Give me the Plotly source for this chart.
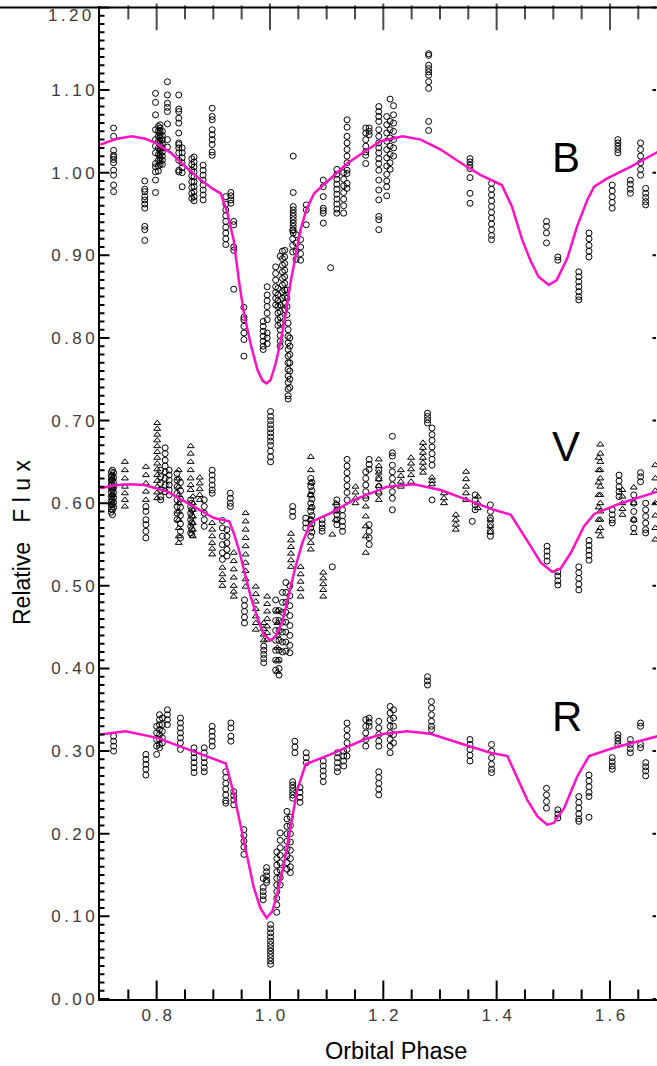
import plotly.graph_objects as go

# ---- observed light curves: (orbital phase, [relative flux, ...]) per run ----
B_OBS = [
    (0.724, [1.054, 1.044, 1.027, 1.021, 1.019, 1.016, 1.012, 1.003, 0.997, 0.985, 0.977]),
    (0.779, [0.990, 0.980, 0.977, 0.971, 0.967, 0.962, 0.957, 0.935, 0.931, 0.918]),
    (0.798, [1.096, 1.085, 1.070, 1.052, 1.040, 1.032, 1.024, 1.011, 1.007, 1.001, 0.991, 0.976]),
    (0.803, [1.056, 1.050, 1.044, 1.038, 1.030, 1.022, 1.015, 1.008, 1.002]),
    (0.806, [1.058, 1.054, 1.050, 1.046, 1.042, 1.038, 1.034, 1.030, 1.026, 1.022, 1.018, 1.014, 1.010]),
    (0.810, [1.050, 1.045, 1.040, 1.035, 1.030, 1.025, 1.020, 1.015, 1.010]),
    (0.819, [1.110, 1.094, 1.084, 1.079, 1.074, 1.059, 1.040, 1.031]),
    (0.839, [1.094, 1.077, 1.074, 1.066, 1.060, 1.048, 1.036, 1.034, 1.030, 1.024, 1.015, 1.003, 1.001]),
    (0.845, [1.030, 1.024, 1.018, 1.012, 1.006, 1.000, 0.983]),
    (0.862, [1.017, 1.010, 1.003, 0.996, 0.989, 0.982, 0.975, 0.969]),
    (0.866, [1.019, 1.013, 1.007, 1.001, 0.995, 0.989, 0.983, 0.977, 0.971, 0.966]),
    (0.882, [1.009, 1.003, 0.997, 0.991, 0.985, 0.979, 0.973, 0.967]),
    (0.898, [1.078, 1.068, 1.064, 1.052, 1.046, 1.040, 1.034, 1.025, 1.021]),
    (0.922, [0.971, 0.962, 0.955, 0.948, 0.941, 0.934, 0.927, 0.920, 0.913]),
    (0.931, [0.976, 0.972, 0.967, 0.963]),
    (0.936, [0.941, 0.937, 0.910, 0.906, 0.859]),
    (0.954, [0.837, 0.825, 0.822, 0.814, 0.806, 0.798, 0.778]),
    (0.988, [0.820, 0.814, 0.808, 0.802, 0.796, 0.790, 0.786]),
    (0.995, [0.862, 0.852, 0.845, 0.838, 0.830, 0.822, 0.806, 0.800, 0.793]),
    (1.010, [0.886, 0.878, 0.870, 0.862, 0.855, 0.848, 0.840]),
    (1.014, [0.860, 0.852, 0.845, 0.838, 0.830, 0.822, 0.815]),
    (1.018, [0.840, 0.832, 0.825, 0.818, 0.810, 0.803, 0.796, 0.790, 0.899]),
    (1.022, [0.905, 0.896, 0.888, 0.880, 0.872, 0.864, 0.856, 0.848]),
    (1.026, [0.906, 0.898, 0.890, 0.882, 0.874, 0.866, 0.858, 0.850, 0.842, 0.834]),
    (1.030, [0.858, 0.848, 0.838, 0.828]),
    (1.032, [0.818, 0.810, 0.802, 0.794, 0.786, 0.778, 0.770, 0.762, 0.754, 0.746, 0.738, 0.730, 0.726]),
    (1.035, [0.800, 0.790, 0.780, 0.770, 0.760, 0.750, 0.740]),
    (1.040, [0.930, 0.920, 0.912, 0.904]),
    (1.041, [1.020, 0.976, 0.959, 0.955, 0.951, 0.947, 0.943, 0.939, 0.935, 0.931, 0.927]),
    (1.046, [0.925, 0.915, 0.905, 0.895]),
    (1.054, [0.919, 0.910, 0.902, 0.894]),
    (1.064, [0.961, 0.955, 0.937]),
    (1.094, [0.991, 0.983, 0.971, 0.957, 0.954, 0.951, 0.939]),
    (1.107, [0.885]),
    (1.118, [1.004, 0.998, 0.992, 0.986, 0.980, 0.974, 0.968, 0.962, 0.956, 0.951]),
    (1.130, [1.000, 0.992, 0.984, 0.976, 0.968, 0.960, 0.951]),
    (1.136, [1.064, 1.055, 1.044, 1.036, 1.028, 1.020, 1.012, 1.003, 0.999, 0.987, 0.981]),
    (1.169, [1.054, 1.048, 1.040, 1.032, 1.025, 1.021, 1.011]),
    (1.175, [1.054, 1.050, 1.046]),
    (1.192, [1.080, 1.074, 1.068, 1.062, 1.052, 1.044, 1.036, 1.030, 1.024, 1.017, 1.011, 1.003,
             0.991, 0.979, 0.967, 0.947, 0.943, 0.931]),
    (1.206, [1.068, 1.058, 1.048, 1.038, 1.028, 1.018, 1.008, 0.998, 0.990, 0.983, 0.972]),
    (1.212, [1.089, 1.062, 1.052, 1.042, 1.032, 1.022, 1.012, 1.004]),
    (1.218, [1.081, 1.070, 1.060, 1.050, 1.040, 1.030, 1.020]),
    (1.280, [1.144, 1.142, 1.130, 1.126, 1.122, 1.118, 1.110, 1.102, 1.062, 1.051]),
    (1.353, [1.017, 1.013, 1.009, 1.005, 0.994, 0.975, 0.963]),
    (1.391, [0.987, 0.980, 0.973, 0.966, 0.959, 0.952, 0.945, 0.938, 0.931, 0.924, 0.919]),
    (1.488, [0.941, 0.935, 0.927, 0.915]),
    (1.508, [0.898, 0.894]),
    (1.545, [0.880, 0.874, 0.868, 0.862, 0.856, 0.850, 0.846]),
    (1.563, [0.927, 0.920, 0.912, 0.905, 0.898]),
    (1.604, [0.985, 0.978, 0.971, 0.964, 0.957]),
    (1.614, [1.040, 1.036, 1.032, 1.028, 1.024]),
    (1.636, [0.991, 0.986, 0.980, 0.975]),
    (1.654, [1.036, 1.028, 1.020, 1.012, 1.004, 0.997]),
    (1.663, [0.981, 0.975, 0.970, 0.965, 0.961]),
]

# V band, first data set (circles)
V_OBS_A = [
    (0.720, [0.638, 0.633, 0.628, 0.623, 0.618, 0.613, 0.608, 0.603, 0.598, 0.593, 0.589]),
    (0.722, [0.640, 0.634, 0.628, 0.622, 0.616, 0.610, 0.604, 0.598, 0.592, 0.586]),
    (0.724, [0.637, 0.631, 0.625, 0.619, 0.613, 0.607, 0.601, 0.595]),
    (0.781, [0.596, 0.590, 0.580, 0.574, 0.566, 0.558]),
    (0.807, [0.640, 0.632, 0.624, 0.616, 0.608, 0.604]),
    (0.815, [0.667, 0.660, 0.652, 0.645, 0.638, 0.630, 0.622, 0.614]),
    (0.822, [0.640, 0.634, 0.628, 0.622, 0.616, 0.610]),
    (0.836, [0.636, 0.628, 0.620, 0.612, 0.604, 0.596, 0.588, 0.580]),
    (0.842, [0.625, 0.615, 0.605, 0.595, 0.585, 0.575, 0.566, 0.558]),
    (0.860, [0.604, 0.596, 0.588, 0.580, 0.572, 0.564]),
    (0.862, [0.600, 0.592, 0.584, 0.576, 0.568, 0.562]),
    (0.884, [0.604, 0.596, 0.588, 0.580, 0.572]),
    (0.898, [0.640, 0.634, 0.628, 0.622, 0.616, 0.612]),
    (0.916, [0.579, 0.570, 0.560, 0.550, 0.540, 0.532]),
    (0.924, [0.568, 0.560, 0.552, 0.544, 0.536]),
    (0.930, [0.612, 0.606, 0.600, 0.596]),
    (0.955, [0.483, 0.476, 0.469, 0.462, 0.455]),
    (0.989, [0.427, 0.422, 0.417, 0.412, 0.407]),
    (1.001, [0.711, 0.705, 0.700, 0.695, 0.690, 0.685, 0.680, 0.675, 0.670, 0.663, 0.656, 0.650]),
    (1.010, [0.483, 0.470, 0.458, 0.446, 0.434, 0.422, 0.410, 0.398]),
    (1.016, [0.470, 0.458, 0.446, 0.434, 0.422, 0.410, 0.400, 0.392]),
    (1.022, [0.492, 0.480, 0.468, 0.456, 0.444, 0.432, 0.420]),
    (1.028, [0.504, 0.492, 0.480, 0.468, 0.456, 0.444, 0.432, 0.421]),
    (1.035, [0.500, 0.488, 0.476, 0.464, 0.452, 0.440, 0.428, 0.419]),
    (1.040, [0.596, 0.590, 0.584]),
    (1.063, [0.582, 0.576, 0.570]),
    (1.072, [0.630, 0.620, 0.610, 0.600, 0.590, 0.580, 0.570, 0.560]),
    (1.074, [0.625, 0.615, 0.605, 0.595, 0.585, 0.575, 0.565]),
    (1.092, [0.580, 0.575, 0.570, 0.566]),
    (1.110, [0.523]),
    (1.118, [0.604, 0.598, 0.592, 0.586, 0.580, 0.574]),
    (1.128, [0.592, 0.585, 0.578, 0.572, 0.566]),
    (1.136, [0.653, 0.645, 0.637, 0.629, 0.621, 0.613, 0.604]),
    (1.169, [0.638, 0.630, 0.622, 0.614, 0.606]),
    (1.175, [0.653, 0.647, 0.641, 0.574, 0.566, 0.558, 0.550]),
    (1.192, [0.640, 0.630, 0.620, 0.612]),
    (1.216, [0.681, 0.661, 0.657, 0.646, 0.638, 0.630, 0.622, 0.614, 0.606, 0.592]),
    (1.278, [0.709, 0.705, 0.701, 0.697]),
    (1.286, [0.691, 0.683, 0.676, 0.668, 0.660, 0.653, 0.646, 0.604]),
    (1.357, [0.578]),
    (1.362, [0.610, 0.604, 0.598, 0.592]),
    (1.389, [0.598, 0.590, 0.582, 0.574, 0.566, 0.560]),
    (1.489, [0.548, 0.542, 0.536, 0.530]),
    (1.508, [0.517, 0.512, 0.506, 0.501]),
    (1.545, [0.523, 0.516, 0.509, 0.502, 0.495]),
    (1.563, [0.555, 0.549, 0.543, 0.537, 0.531]),
    (1.604, [0.592, 0.586, 0.580, 0.576]),
    (1.616, [0.634, 0.627, 0.620, 0.614, 0.608]),
    (1.642, [0.610, 0.600, 0.590, 0.580, 0.570]),
    (1.654, [0.637, 0.632, 0.626]),
    (1.663, [0.600, 0.592, 0.584, 0.576, 0.568, 0.564]),
]

# V band, second data set (triangles)
V_OBS_B = [
    (0.722, [0.630, 0.620, 0.610, 0.600]),
    (0.744, [0.650, 0.640, 0.630, 0.620, 0.612, 0.604, 0.596]),
    (0.781, [0.644, 0.634, 0.624, 0.614, 0.604]),
    (0.801, [0.697, 0.690, 0.683, 0.676, 0.669, 0.662, 0.655, 0.648, 0.641, 0.634, 0.627, 0.620,
             0.613, 0.606]),
    (0.839, [0.640, 0.630, 0.620, 0.610, 0.600, 0.590, 0.580, 0.570, 0.560, 0.552]),
    (0.860, [0.669, 0.660, 0.650, 0.640, 0.630, 0.622, 0.616]),
    (0.864, [0.608, 0.600, 0.592, 0.584, 0.576, 0.568, 0.560]),
    (0.876, [0.631, 0.624, 0.617, 0.610, 0.604]),
    (0.898, [0.576, 0.568, 0.560, 0.552, 0.545, 0.538]),
    (0.916, [0.522, 0.514, 0.507, 0.500]),
    (0.936, [0.540, 0.530, 0.520, 0.510, 0.500, 0.493, 0.487]),
    (0.957, [0.588, 0.578, 0.568, 0.558, 0.548, 0.538, 0.528, 0.518, 0.508, 0.499]),
    (0.975, [0.499, 0.490, 0.481, 0.472, 0.463, 0.455, 0.447]),
    (0.989, [0.455, 0.448, 0.441, 0.434]),
    (0.995, [0.487, 0.478, 0.469, 0.460, 0.451, 0.443, 0.435]),
    (1.013, [0.470, 0.455, 0.440, 0.425, 0.410, 0.396]),
    (1.037, [0.563, 0.555, 0.547, 0.539, 0.531, 0.523]),
    (1.054, [0.523, 0.514, 0.505, 0.496, 0.487]),
    (1.072, [0.656, 0.640, 0.625, 0.610, 0.595, 0.580, 0.552, 0.544]),
    (1.094, [0.516, 0.509, 0.502, 0.495, 0.487]),
    (1.110, [0.562]),
    (1.116, [0.600, 0.590, 0.580]),
    (1.151, [0.620, 0.613, 0.606, 0.600]),
    (1.169, [0.608, 0.596, 0.584, 0.572, 0.560, 0.540]),
    (1.192, [0.653, 0.645, 0.637, 0.629, 0.621, 0.613, 0.604]),
    (1.231, [0.640, 0.633, 0.626, 0.620]),
    (1.249, [0.655, 0.648, 0.641, 0.634, 0.626]),
    (1.270, [0.673, 0.667, 0.661, 0.655, 0.649, 0.643, 0.637]),
    (1.286, [0.631, 0.627, 0.623]),
    (1.307, [0.612, 0.606, 0.600]),
    (1.328, [0.586, 0.580, 0.574, 0.568]),
    (1.346, [0.638, 0.629, 0.620, 0.612, 0.604]),
    (1.367, [0.608, 0.600, 0.594]),
    (1.389, [0.580, 0.572, 0.565]),
    (1.580, [0.655, 0.640, 0.625, 0.610, 0.595, 0.580, 0.566]),
    (1.583, [0.671, 0.660, 0.650, 0.640, 0.630, 0.620, 0.610, 0.600, 0.590, 0.580, 0.570, 0.560]),
    (1.622, [0.616, 0.608, 0.600, 0.593, 0.586]),
    (1.642, [0.619, 0.600, 0.580, 0.564]),
    (1.680, [0.646, 0.630, 0.615, 0.600, 0.585, 0.570, 0.556]),
]

R_OBS = [
    (0.724, [0.318, 0.312, 0.306, 0.300]),
    (0.781, [0.296, 0.290, 0.284, 0.278, 0.271]),
    (0.800, [0.330, 0.322, 0.314, 0.306, 0.296]),
    (0.805, [0.344, 0.338, 0.332, 0.326, 0.320, 0.314, 0.308, 0.304]),
    (0.810, [0.340, 0.332, 0.324, 0.316, 0.310]),
    (0.819, [0.350, 0.344, 0.338, 0.332]),
    (0.842, [0.340, 0.334, 0.328, 0.322, 0.316, 0.310, 0.302]),
    (0.866, [0.304, 0.298, 0.292, 0.286, 0.280, 0.274]),
    (0.884, [0.304, 0.298, 0.292, 0.286, 0.280, 0.275]),
    (0.898, [0.330, 0.324, 0.318, 0.312, 0.306]),
    (0.922, [0.275, 0.268, 0.261, 0.254, 0.247, 0.240, 0.237]),
    (0.931, [0.334, 0.328, 0.318, 0.312]),
    (0.936, [0.251, 0.246, 0.241, 0.235]),
    (0.954, [0.205, 0.198, 0.191, 0.184, 0.175]),
    (0.988, [0.146, 0.135, 0.130, 0.125, 0.120]),
    (0.994, [0.159, 0.154, 0.149, 0.144, 0.141]),
    (1.001, [0.090, 0.085, 0.080, 0.075, 0.070, 0.066, 0.062, 0.058, 0.054, 0.050, 0.046, 0.042]),
    (1.012, [0.178, 0.170, 0.162, 0.154, 0.146, 0.138, 0.130, 0.122, 0.114, 0.105]),
    (1.018, [0.201, 0.192, 0.183, 0.174, 0.165, 0.156, 0.147, 0.138]),
    (1.030, [0.227, 0.218, 0.209, 0.200, 0.191, 0.182, 0.173, 0.165, 0.157]),
    (1.036, [0.220, 0.210, 0.200, 0.190, 0.180, 0.170, 0.160, 0.153]),
    (1.040, [0.263, 0.259, 0.255, 0.251, 0.247, 0.243]),
    (1.044, [0.312, 0.305, 0.298]),
    (1.053, [0.256, 0.250, 0.244, 0.238]),
    (1.064, [0.298, 0.292, 0.286]),
    (1.094, [0.288, 0.282, 0.276, 0.270, 0.263]),
    (1.119, [0.298, 0.292, 0.286, 0.280, 0.275]),
    (1.130, [0.300, 0.294, 0.288, 0.282]),
    (1.136, [0.334, 0.326, 0.318, 0.310, 0.302, 0.294]),
    (1.169, [0.338, 0.330, 0.322, 0.314, 0.306]),
    (1.175, [0.340, 0.335, 0.330]),
    (1.192, [0.336, 0.328, 0.320, 0.312, 0.306, 0.275, 0.268, 0.261, 0.254, 0.247]),
    (1.212, [0.354, 0.346, 0.338, 0.330, 0.322, 0.314, 0.306, 0.298]),
    (1.218, [0.350, 0.340, 0.330, 0.320, 0.310]),
    (1.278, [0.390, 0.385, 0.380]),
    (1.285, [0.360, 0.352, 0.344, 0.336, 0.330, 0.326]),
    (1.353, [0.314, 0.308, 0.302, 0.295, 0.288]),
    (1.391, [0.308, 0.300, 0.292, 0.284, 0.278, 0.274]),
    (1.488, [0.255, 0.247, 0.239, 0.231]),
    (1.508, [0.229, 0.224, 0.219]),
    (1.545, [0.245, 0.238, 0.231, 0.224, 0.218, 0.215]),
    (1.563, [0.271, 0.264, 0.257, 0.250, 0.245, 0.220]),
    (1.604, [0.292, 0.287, 0.282, 0.278]),
    (1.614, [0.320, 0.316, 0.312, 0.308]),
    (1.636, [0.314, 0.308, 0.303, 0.298]),
    (1.654, [0.334, 0.330, 0.308, 0.304]),
    (1.663, [0.286, 0.281, 0.276, 0.270]),
]

# ---- synthetic light-curve models ----
B_MODEL_PHASE = [0.700, 0.730, 0.756, 0.780, 0.798, 0.825, 0.848, 0.878, 0.900, 0.913, 0.925,
                 0.936, 0.945, 0.954, 0.966, 0.978, 0.987, 0.994, 1.001, 1.010, 1.019, 1.028,
                 1.036, 1.045, 1.054, 1.064, 1.078, 1.107, 1.136, 1.166, 1.195, 1.234, 1.266,
                 1.301, 1.343, 1.372, 1.409, 1.427, 1.445, 1.460, 1.474, 1.492, 1.506, 1.525,
                 1.542, 1.560, 1.572, 1.595, 1.636, 1.684]
B_MODEL_FLUX = [1.034, 1.041, 1.044, 1.041, 1.036, 1.024, 1.009, 0.991, 0.980, 0.975, 0.951,
                0.918, 0.870, 0.830, 0.792, 0.761, 0.748, 0.745, 0.749, 0.769, 0.797, 0.830,
                0.866, 0.900, 0.931, 0.955, 0.975, 0.993, 1.011, 1.025, 1.038, 1.044, 1.040,
                1.028, 1.009, 0.997, 0.985, 0.959, 0.919, 0.893, 0.874, 0.864, 0.870, 0.897,
                0.935, 0.967, 0.983, 0.993, 1.007, 1.025]

V_MODEL_PHASE = [0.700, 0.730, 0.754, 0.778, 0.819, 0.866, 0.901, 0.928, 0.936, 0.945, 0.954,
                 0.966, 0.978, 0.989, 1.001, 1.010, 1.022, 1.033, 1.045, 1.057, 1.069, 1.078,
                 1.107, 1.148, 1.207, 1.254, 1.301, 1.348, 1.395, 1.425, 1.442, 1.460, 1.478,
                 1.498, 1.513, 1.531, 1.554, 1.572, 1.619, 1.684]
V_MODEL_FLUX = [0.618, 0.622, 0.623, 0.622, 0.614, 0.596, 0.582, 0.578, 0.564, 0.544, 0.520,
                0.487, 0.461, 0.441, 0.434, 0.439, 0.457, 0.487, 0.523, 0.552, 0.572, 0.579,
                0.588, 0.604, 0.620, 0.623, 0.616, 0.604, 0.592, 0.586, 0.568, 0.548, 0.528,
                0.517, 0.521, 0.540, 0.572, 0.587, 0.600, 0.614]

R_MODEL_PHASE = [0.700, 0.745, 0.801, 0.848, 0.889, 0.922, 0.936, 0.948, 0.960, 0.971, 0.983,
                 0.994, 1.004, 1.013, 1.025, 1.036, 1.048, 1.063, 1.107, 1.166, 1.201, 1.242,
                 1.283, 1.342, 1.389, 1.419, 1.436, 1.454, 1.472, 1.489, 1.501, 1.519, 1.542,
                 1.563, 1.607, 1.684]
R_MODEL_FLUX = [0.320, 0.324, 0.316, 0.304, 0.294, 0.285, 0.249, 0.209, 0.169, 0.136, 0.110,
                0.098, 0.106, 0.128, 0.165, 0.209, 0.253, 0.284, 0.296, 0.314, 0.321, 0.324,
                0.321, 0.308, 0.298, 0.294, 0.269, 0.241, 0.221, 0.211, 0.213, 0.231, 0.269,
                0.294, 0.304, 0.318]

BAND_LABELS = ["B", "V", "R"]
BAND_LABEL_POS = [(1.523, 1.018), (1.523, 0.669), (1.525, 0.342)]

X_TICKS = [0.8, 1.0, 1.2, 1.4, 1.6]
Y_TICKS = [round(0.1 * i, 1) for i in range(13)]
X_MINOR = [round(0.70 + 0.05 * i, 2) for i in range(20)]
Y_MINOR = [round(0.01 * i, 2) for i in range(121)]


def expand(runs):
    xs, ys = [], []
    for phase, fluxes in runs:
        for f in fluxes:
            xs.append(phase)
            ys.append(f)
    return xs, ys


MODEL_COLOR = "#ff0fc6"
FONT = "Liberation Sans, Arial, sans-serif"
TICK_FONT = dict(family=FONT, size=17, color="#3c3c3c")
THIN = "\u2009"


def spaced(s):
    return THIN.join(s)


# page and plot-area geometry
W, H = 657, 1066
ML, MR, MT, MB = 100, 0, 6, 67
pw, ph = W - ML - MR, H - MT - MB
X0, X1 = 0.7, 1.683
Y0, Y1 = 0.0, 1.2 * ph / (ph - 1.4)   # keeps the 1.20 frame edge fully inside
DX = (X1 - X0) / pw                   # phase per pixel
DY = (Y1 - Y0) / ph                   # flux per pixel

fig = go.Figure()

circle = dict(symbol="circle-open", size=6, color="black", line=dict(width=1, color="black"))
triangle = dict(symbol="triangle-up-open", size=6, color="black", line=dict(width=1, color="black"))

for runs, marker in [(B_OBS, circle), (V_OBS_A, circle), (V_OBS_B, triangle), (R_OBS, circle)]:
    xs, ys = expand(runs)
    fig.add_trace(go.Scatter(x=xs, y=ys, mode="markers", marker=marker,
                             showlegend=False, hoverinfo="skip"))

for px, fy in [(B_MODEL_PHASE, B_MODEL_FLUX), (V_MODEL_PHASE, V_MODEL_FLUX),
               (R_MODEL_PHASE, R_MODEL_FLUX)]:
    fig.add_trace(go.Scatter(x=px, y=fy, mode="lines",
                             line=dict(color=MODEL_COLOR, width=2.5),
                             showlegend=False, hoverinfo="skip"))

# ---- top edge of the frame and its inward ticks, as line-shaped markers ----
tx_, ty_, ts_ = [], [], []
for v in X_MINOR[1:]:
    ln = 19 if any(abs(v - t) < 1e-6 for t in X_TICKS) else 10
    tx_.append(v); ty_.append(1.2 - ln / 2 * DY); ts_.append(ln)
fig.add_trace(go.Scatter(x=tx_, y=ty_, mode="markers", cliponaxis=False,
                         marker=dict(symbol="line-ns", size=ts_, color="black",
                                     line=dict(width=2, color="black")),
                         showlegend=False, hoverinfo="skip"))
fig.add_trace(go.Scatter(x=[(X0 + X1) / 2], y=[1.2], mode="markers", cliponaxis=False,
                         marker=dict(symbol="line-ew", size=pw + 2, color="black",
                                     line=dict(width=2, color="black")),
                         showlegend=False, hoverinfo="skip"))


# ---- left, right and bottom inward ticks, as short arrow-less segments ----
def tick(x, y, xref, yref, ax, ay):
    return dict(x=x, y=y, xref=xref, yref=yref, ax=ax, ay=ay, axref="pixel", ayref="pixel",
                text="", showarrow=True, arrowhead=0, arrowwidth=2, arrowcolor="black",
                standoff=0, startstandoff=0, font=dict(size=1))


ticks = []
for v in Y_MINOR:
    major = abs(v * 10 - round(v * 10)) < 1e-6
    ln = 10 if major else 5
    ticks.append(tick(0, v, "paper", "y", ln + 1, 0))
    if major:
        ticks.append(tick(1, v, "paper", "y", -6, 0))
for v in X_MINOR[1:]:
    ln = 19 if any(abs(v - t) < 1e-6 for t in X_TICKS) else 10
    ticks.append(tick(v, 0, "x", "paper", 0, -(ln + 1)))
for t in ticks:
    fig.add_annotation(**t)

for text, (bx, by) in zip(BAND_LABELS, BAND_LABEL_POS):
    fig.add_annotation(x=bx, y=by, xref="x", yref="y", text=text, showarrow=False,
                       xanchor="center", yanchor="middle",
                       font=dict(family=FONT, size=42, color="black"))


def paper_xy(px_x, px_y):
    # pixel position on the page -> paper coordinates
    return (px_x - ML) / pw, (H - MB - px_y) / ph


tx, ty = paper_xy(396, 1051)
fig.add_annotation(x=tx, y=ty, xref="paper", yref="paper", text="Orbital Phase",
                   showarrow=False, xanchor="center", yanchor="middle",
                   font=dict(family=FONT, size=23.5, color="black"))
tx, ty = paper_xy(22, 543)
fig.add_annotation(x=tx, y=ty, xref="paper", yref="paper",
                   text="Relative\u00a0\u00a0\u00a0F l u x", textangle=-90,
                   showarrow=False, xanchor="center", yanchor="middle",
                   font=dict(family=FONT, size=23, color="black"))
# the top label sits just inside the frame
tx, ty = paper_xy(93, 15.5)
fig.add_annotation(x=tx, y=ty, xref="paper", yref="paper", text=spaced("1.20"),
                   showarrow=False, xanchor="right", yanchor="middle", font=TICK_FONT)

fig.update_layout(
    width=W, height=H,
    margin=dict(l=ML, r=MR, t=MT, b=MB),
    paper_bgcolor="white", plot_bgcolor="white",
    xaxis=dict(
        range=[X0, X1], tickmode="array", tickvals=X_TICKS,
        ticktext=[spaced(f"{v:.1f}") for v in X_TICKS],
        ticks="", showline=True, linewidth=2, linecolor="black",
        showgrid=False, zeroline=False, tickfont=TICK_FONT,
    ),
    yaxis=dict(
        range=[Y0, Y1], tickmode="array", tickvals=Y_TICKS[:-1],
        ticktext=[spaced(f"{v:.2f}") for v in Y_TICKS[:-1]],
        ticks="", showline=True, linewidth=2, linecolor="black",
        showgrid=False, zeroline=False, tickfont=TICK_FONT,
    ),
)

fig.write_html("out.html", config={"staticPlot": True, "displayModeBar": False})
